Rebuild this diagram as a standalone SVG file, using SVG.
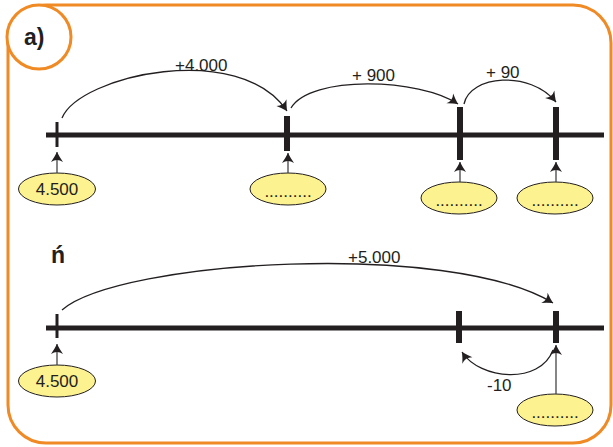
<svg xmlns="http://www.w3.org/2000/svg" width="613" height="447" viewBox="0 0 613 447">
<style>
.frame{fill:#fff;stroke:#f08a24;stroke-width:3}
.axis{stroke:#231f20;stroke-width:5;fill:none}
.tick{stroke:#231f20;fill:none}
.arc{stroke:#231f20;stroke-width:1.3;fill:none;marker-end:url(#ah)}
.up{stroke:#444;stroke-width:1.3;fill:none;marker-end:url(#ah)}
.oval{fill:#fcf28f;stroke:#231f20;stroke-width:1}
.t{font-family:"Liberation Sans",Arial,sans-serif;fill:#231f20;font-size:17px}
.dots{font-family:"Liberation Sans",Arial,sans-serif;fill:#231f20;font-size:17px}
.lbl{font-family:"Liberation Sans",Arial,sans-serif;fill:#231f20;font-size:23px;font-weight:bold}
</style>
<defs>
<marker id="ah" markerUnits="userSpaceOnUse" markerWidth="14" markerHeight="14" viewBox="-11 -7 13 14" refX="0" refY="0" orient="auto">
<path d="M0,0 Q-5,-2.5 -10,-6 Q-6,0 -10,6 Q-5,2.5 0,0 Z" fill="#231f20"/>
</marker>
</defs>
<rect class="frame" x="8" y="5" width="603" height="438" rx="38"/>
<g id="label-a">
<circle cx="39" cy="37" r="32" fill="#fff" stroke="#f08a24" stroke-width="3"/>
<text class="lbl" x="24" y="45">a)</text>
</g>
<g id="label-b"><text class="lbl" x="51" y="263" font-size="20">ń</text></g>
<g id="line1">
<line class="axis" x1="46" y1="135" x2="604" y2="135"/>
<line class="tick" stroke-width="3" x1="57" y1="122" x2="57" y2="147"/>
<line class="tick" stroke-width="6" x1="287" y1="116" x2="287" y2="151"/>
<line class="tick" stroke-width="6" x1="460" y1="107" x2="460" y2="160"/>
<line class="tick" stroke-width="6" x1="556" y1="107" x2="556" y2="160"/>
</g>
<g id="line2">
<line class="axis" x1="46" y1="328" x2="604" y2="328"/>
<line class="tick" stroke-width="3" x1="57" y1="314" x2="57" y2="338"/>
<line class="tick" stroke-width="6" x1="459" y1="311" x2="459" y2="343"/>
<line class="tick" stroke-width="6" x1="556" y1="311" x2="556" y2="343"/>
</g>
<g id="n1"><ellipse class="oval" cx="57" cy="189" rx="38.5" ry="16"/><text class="t" x="57" y="195" text-anchor="middle">4.500</text></g>
<g id="n2"><ellipse class="oval" cx="288" cy="189" rx="38" ry="16"/><text class="dots" x="288" y="197" text-anchor="middle">..........</text></g>
<g id="n3"><ellipse class="oval" cx="459" cy="198" rx="38" ry="16"/><text class="dots" x="459" y="206" text-anchor="middle">..........</text></g>
<g id="n4"><ellipse class="oval" cx="555" cy="198" rx="38" ry="16"/><text class="dots" x="555" y="206" text-anchor="middle">..........</text></g>
<g id="n5"><ellipse class="oval" cx="57" cy="381" rx="38.5" ry="16"/><text class="t" x="57" y="387" text-anchor="middle">4.500</text></g>
<g id="n6"><ellipse class="oval" cx="555" cy="410" rx="38" ry="16"/><text class="dots" x="555" y="418" text-anchor="middle">..........</text></g>
<g id="connectors">
<line class="up" x1="57" y1="173" x2="57" y2="152"/>
<line class="up" x1="288" y1="173" x2="288" y2="153"/>
<line class="up" x1="460" y1="182" x2="460" y2="162"/>
<line class="up" x1="556" y1="182" x2="556" y2="162"/>
<line class="up" x1="57" y1="365" x2="57" y2="344"/>
<line class="up" x1="556" y1="394" x2="556" y2="345"/>
<path class="arc" d="M62,118 C80,75 240,40 287,111"/>
<path class="arc" d="M291,108 C310,75 420,78 458,104"/>
<path class="arc" d="M464,104 C470,75 530,70 556,102"/>
<path class="arc" d="M62,310 C120,260 450,240 553,303"/>
<path class="arc" d="M553,350 C540,385 480,380 462,352"/>
</g>
<g id="labels">
<text class="t" x="175" y="71">+4.000</text>
<text class="t" x="352" y="81">+ 900</text>
<text class="t" x="486" y="78">+ 90</text>
<text class="t" x="348" y="263">+5.000</text>
<text class="t" x="487" y="391">-10</text>
</g>
</svg>
